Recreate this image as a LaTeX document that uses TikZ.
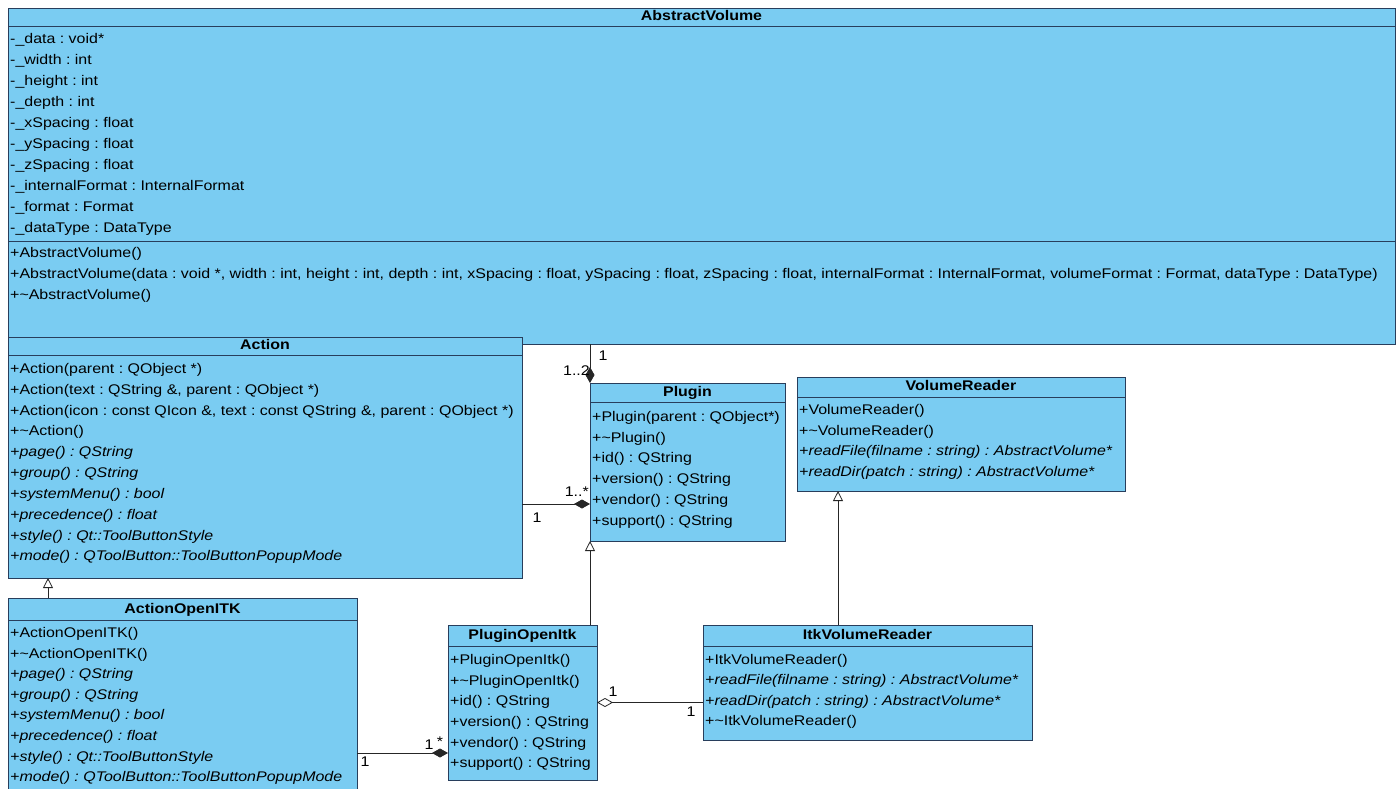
\documentclass[tikz,border=0pt]{standalone}
\usepackage{fontspec}
\setmainfont{Liberation Sans}[FakeStretch=1.14]
\usetikzlibrary{arrows.meta}
\definecolor{umlfill}{RGB}{122,204,242}
\definecolor{umlline}{RGB}{40,62,92}
\frenchspacing

\tikzset{
  classbox/.style={draw=umlline, fill=umlfill, line width=0.9pt, inner sep=0pt, outer sep=0pt, anchor=north west},
  classtitle/.style={font=\fontsize{14}{16}\selectfont\bfseries, inner sep=0pt, text height=10pt, text depth=3pt, anchor=center},
  member/.style={font=\fontsize{14}{16}\selectfont, inner sep=0pt, text height=10pt, text depth=3pt, anchor=west},
  abstractop/.style={member, font=\fontsize{14}{16}\selectfont\itshape},
  sepline/.style={draw=umlline, line width=0.9pt},
  link/.style={draw=black!85, line width=0.8pt},
  composite/.style={link, {Diamond[length=16pt,width=9pt]}-},
  shared/.style={link, {Diamond[open,length=16pt,width=9pt,fill=white]}-},
  inherit/.style={link, -{Triangle[open,length=10pt,width=10pt,fill=white]}},
  mult/.style={font=\fontsize{14}{16}\selectfont, inner sep=0pt, text height=10pt, text depth=3pt}
}

\begin{document}
\begin{tikzpicture}[x=1pt, y=-1pt]
\useasboundingbox (0,0) rectangle (1400,789);
\fill[white] (0,0) rectangle (1400,789);
\clip (0,0) rectangle (1400,789);

% ---------------- AbstractVolume ----------------
\node[classbox, minimum width=1387pt, minimum height=336pt] (av) at (8,8) {};
\node[classtitle] (av-t) at (701.5,17) {AbstractVolume};
\draw[sepline] (av.west |- 0,26) -- (av.east |- 0,26);
\node[member] (av-a1) at (10,40) {-\_data : void*};
\node[member] (av-a2) at (10,61) {-\_width : int};
\node[member] (av-a3) at (10,82) {-\_height : int};
\node[member] (av-a4) at (10,103) {-\_depth : int};
\node[member] (av-a5) at (10,124) {-\_xSpacing : float};
\node[member] (av-a6) at (10,145) {-\_ySpacing : float};
\node[member] (av-a7) at (10,166) {-\_zSpacing : float};
\node[member] (av-a8) at (10,187) {-\_internalFormat : InternalFormat};
\node[member] (av-a9) at (10,208) {-\_format : Format};
\node[member] (av-a10) at (10,229) {-\_dataType : DataType};
\draw[sepline] (av.west |- 0,241) -- (av.east |- 0,241);
\node[member] (av-m1) at (10,254) {+AbstractVolume()};
\node[member] (av-m2) at (10,275) {+AbstractVolume(data : void *, width : int, height : int, depth : int, xSpacing : float, ySpacing : float, zSpacing : float, internalFormat : InternalFormat, volumeFormat : Format, dataType : DataType)};
\node[member] (av-m3) at (10,296) {+\textasciitilde AbstractVolume()};

% ---------------- Action ----------------
\node[classbox, minimum width=514pt, minimum height=241pt] (action) at (8,337) {};
\node[classtitle] (action-t) at (265,346) {Action};
\draw[sepline] (action.west |- 0,355) -- (action.east |- 0,355);
\node[member] (action-m1) at (10,370) {+Action(parent : QObject *)};
\node[member] (action-m2) at (10,391) {+Action(text : QString \&, parent : QObject *)};
\node[member] (action-m3) at (10,412) {+Action(icon : const QIcon \&, text : const QString \&, parent : QObject *)};
\node[member] (action-m4) at (10,432) {+\textasciitilde Action()};
\node[abstractop] (action-m5) at (10,453) {+page() : QString};
\node[abstractop] (action-m6) at (10,474) {+group() : QString};
\node[abstractop] (action-m7) at (10,495) {+systemMenu() : bool};
\node[abstractop] (action-m8) at (10,516) {+precedence() : float};
\node[abstractop] (action-m9) at (10,537) {+style() : Qt::ToolButtonStyle};
\node[abstractop] (action-m10) at (10,557) {+mode() : QToolButton::ToolButtonPopupMode};

% ---------------- ActionOpenITK ----------------
\node[classbox, minimum width=349pt, minimum height=205pt] (aoi) at (8,598) {};
\node[classtitle] (aoi-t) at (182.5,610) {ActionOpenITK};
\draw[sepline] (aoi.west |- 0,620) -- (aoi.east |- 0,620);
\node[member] (aoi-m1) at (10,634) {+ActionOpenITK()};
\node[member] (aoi-m2) at (10,655) {+\textasciitilde ActionOpenITK()};
\node[abstractop] (aoi-m3) at (10,675) {+page() : QString};
\node[abstractop] (aoi-m4) at (10,696) {+group() : QString};
\node[abstractop] (aoi-m5) at (10,716) {+systemMenu() : bool};
\node[abstractop] (aoi-m6) at (10,737) {+precedence() : float};
\node[abstractop] (aoi-m7) at (10,758) {+style() : Qt::ToolButtonStyle};
\node[abstractop] (aoi-m8) at (10,778) {+mode() : QToolButton::ToolButtonPopupMode};

% ---------------- Plugin ----------------
\node[classbox, minimum width=195pt, minimum height=158pt] (plugin) at (590,383) {};
\node[classtitle] (plugin-t) at (687.5,393) {Plugin};
\draw[sepline] (plugin.west |- 0,402) -- (plugin.east |- 0,402);
\node[member] (plugin-m1) at (592,418) {+Plugin(parent : QObject*)};
\node[member] (plugin-m2) at (592,439) {+\textasciitilde Plugin()};
\node[member] (plugin-m3) at (592,459) {+id() : QString};
\node[member] (plugin-m4) at (592,480) {+version() : QString};
\node[member] (plugin-m5) at (592,501) {+vendor() : QString};
\node[member] (plugin-m6) at (592,522) {+support() : QString};

% ---------------- VolumeReader ----------------
\node[classbox, minimum width=328pt, minimum height=114pt] (vr) at (797,377) {};
\node[classtitle] (vr-t) at (961,387) {VolumeReader};
\draw[sepline] (vr.west |- 0,397) -- (vr.east |- 0,397);
\node[member] (vr-m1) at (799,411) {+VolumeReader()};
\node[member] (vr-m2) at (799,432) {+\textasciitilde VolumeReader()};
\node[abstractop] (vr-m3) at (799,452) {+readFile(filname : string) : AbstractVolume*};
\node[abstractop] (vr-m4) at (799,473) {+readDir(patch : string) : AbstractVolume*};

% ---------------- PluginOpenItk ----------------
\node[classbox, minimum width=149pt, minimum height=155pt] (pio) at (448,625) {};
\node[classtitle] (pio-t) at (522.5,636) {PluginOpenItk};
\draw[sepline] (pio.west |- 0,646) -- (pio.east |- 0,646);
\node[member] (pio-m1) at (450,661) {+PluginOpenItk()};
\node[member] (pio-m2) at (450,682) {+\textasciitilde PluginOpenItk()};
\node[member] (pio-m3) at (450,702) {+id() : QString};
\node[member] (pio-m4) at (450,723) {+version() : QString};
\node[member] (pio-m5) at (450,744) {+vendor() : QString};
\node[member] (pio-m6) at (450,764) {+support() : QString};

% ---------------- ItkVolumeReader ----------------
\node[classbox, minimum width=329pt, minimum height=115pt] (itk) at (703,625) {};
\node[classtitle] (itk-t) at (867.5,636) {ItkVolumeReader};
\draw[sepline] (itk.west |- 0,646) -- (itk.east |- 0,646);
\node[member] (itk-m1) at (705,661) {+ItkVolumeReader()};
\node[abstractop] (itk-m2) at (705,681) {+readFile(filname : string) : AbstractVolume*};
\node[abstractop] (itk-m3) at (705,702) {+readDir(patch : string) : AbstractVolume*};
\node[member] (itk-m4) at (705,722) {+\textasciitilde ItkVolumeReader()};

% ---------------- Relations ----------------
% Plugin owns AbstractVolume (composition)
\draw[composite] (plugin.north west) -- (av.south -| plugin.west);
\node[mult] (m-av1) at (603,357) {1};
\node[mult, anchor=east] (m-av2) at (590,372) {1..2};

% Plugin owns Action (composition)
\path ([yshift=-42pt]plugin.west) coordinate (pa);
\draw[composite] (pa) -- (pa -| action.east);
\node[mult] (m-ac1) at (537,519) {1};
\node[mult, anchor=east] (m-ac2) at (589,493) {1..*};

% Generalisations
\draw[inherit] (plugin.south west |- pio.north) -- (plugin.south west);
\path ([xshift=41pt]vr.south west) coordinate (vg);
\draw[inherit] (vg |- itk.north) -- (vg);
\path ([xshift=40pt]action.south west) coordinate (ag);
\draw[inherit] (ag |- aoi.north) -- (ag);

% PluginOpenItk owns ActionOpenITK (composition)
\path ([yshift=-50.5pt]pio.west) coordinate (pc);
\draw[composite] (pc) -- (pc -| aoi.east);
\node[mult] (m-ao1) at (365,763) {1};
\node[mult] (m-ao2) at (429,746) {1};
\node[mult] (m-ao3) at (440,743) {*};

% PluginOpenItk aggregates ItkVolumeReader
\draw[shared] (pio.east) -- (pio.east -| itk.west);
\node[mult] (m-it1) at (613,693) {1};
\node[mult] (m-it2) at (691,713) {1};
\end{tikzpicture}
\end{document}
